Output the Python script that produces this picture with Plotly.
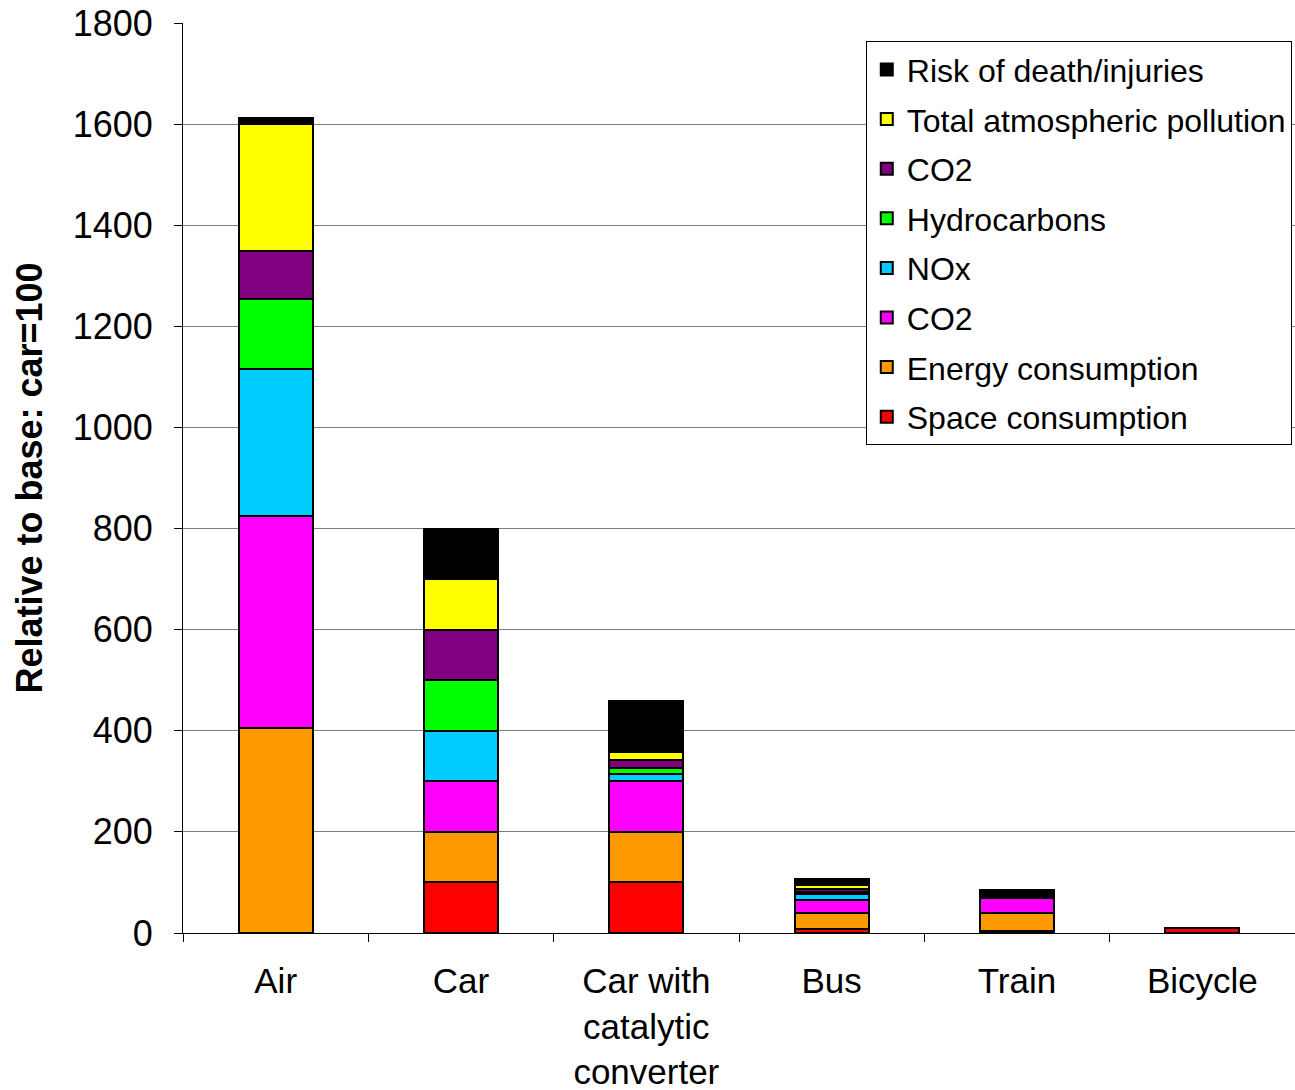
import plotly.graph_objects as go

# Transport modes and the stacked impact components (relative to car = 100)
modes = ["Air", "Car", "Car with<br>catalytic<br>converter", "Bus", "Train", "Bicycle"]

space_consumption = [0, 100, 100, 8, 3, 10]
energy_consumption = [405, 100, 100, 32, 37, 0]
co2_a = [420, 100, 100, 25, 30, 0]
nox = [290, 100, 15, 12, 0, 0]
hydrocarbons = [140, 100, 12, 5, 0, 0]
co2_b = [95, 100, 16, 5, 0, 0]
total_pollution = [250, 100, 15, 8, 0, 0]
risk_death = [12, 100, 100, 12, 15, 0]

series = [
    ("Space consumption", space_consumption, "#ff0000"),
    ("Energy consumption", energy_consumption, "#ff9900"),
    ("CO2", co2_a, "#ff00ff"),
    ("NOx", nox, "#00ccff"),
    ("Hydrocarbons", hydrocarbons, "#00ff00"),
    ("CO2", co2_b, "#800080"),
    ("Total atmospheric pollution", total_pollution, "#ffff00"),
    ("Risk of death/injuries", risk_death, "#000000"),
]

FONT = "Liberation Sans, Arial, sans-serif"

fig = go.Figure()
for i, (name, vals, color) in enumerate(series):
    fig.add_trace(go.Bar(
        x=modes, y=vals, name=name,
        legendgroup=f"g{i}", legendrank=100 - i,
        marker=dict(color=color, line=dict(color="#000000", width=2)),
    ))

fig.update_layout(
    width=1295, height=1090,
    barmode="stack", bargap=0.6,
    margin=dict(l=183, r=0, t=23, b=157),
    plot_bgcolor="white", paper_bgcolor="white",
    font=dict(family=FONT, size=34, color="#000000"),
    showlegend=True,
    legend=dict(
        x=0.614, y=0.98, xanchor="left", yanchor="top",
        traceorder="grouped", tracegroupgap=5,
        bgcolor="white", bordercolor="#000000", borderwidth=1,
        font=dict(family=FONT, size=32, color="#000000"),
    ),
    xaxis=dict(
        automargin=False,
        showline=True, linecolor="#000000", linewidth=1,
        ticks="outside", ticklen=8, tickcolor="#000000", tickson="boundaries",
        tickfont=dict(size=35), ticklabelstandoff=17,
    ),
    yaxis=dict(
        automargin=False,
        range=[0, 1800], dtick=200,
        showline=True, linecolor="#000000", linewidth=1,
        ticks="outside", ticklen=8, tickcolor="#000000",
        showgrid=True, gridcolor="#808080", gridwidth=1,
        zeroline=False,
        tickfont=dict(size=36), ticklabelstandoff=14,
        title=dict(text="<b>Relative to base: car=100</b>", font=dict(size=36), standoff=19),
    ),
)

fig.write_html("out.html")
